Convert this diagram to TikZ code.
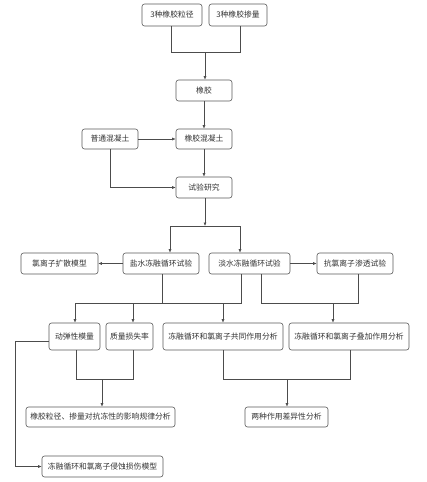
\documentclass[tikz,border=0pt]{standalone}
\usepackage{fontspec}
\setmainfont{Noto Sans CJK SC}
\usetikzlibrary{arrows.meta}
\begin{document}
\begin{tikzpicture}[x=1pt,y=-1pt,
  box/.style={draw=black!65, rounded corners=2.5pt, line width=0.6pt, inner sep=0pt, align=center,
     font=\fontsize{7.8}{9}\selectfont, text=black!80},
  ln/.style={draw=black!70, line width=0.6pt},
  arr/.style={ln, -{Latex[length=3.5pt,width=3pt]}}]
\useasboundingbox (0,0) rectangle (426,482);
% nodes
\node[box, minimum width=60pt, minimum height=22pt] (t1) at (172,15) {3种橡胶粒径};
\node[box, minimum width=58pt, minimum height=22pt] (t2) at (238,15) {3种橡胶掺量};
\node[box, minimum width=56pt, minimum height=21pt] (rub) at (204,90.5) {橡胶};
\node[box, minimum width=56pt, minimum height=20pt] (rc) at (204,139) {橡胶混凝土};
\node[box, minimum width=56pt, minimum height=20pt] (oc) at (110,139) {普通混凝土};
\node[box, minimum width=56pt, minimum height=21pt] (exp) at (204,187.5) {试验研究};
\node[box, minimum width=77pt, minimum height=21pt] (cl) at (59.5,263.5) {氯离子扩散模型};
\node[box, minimum width=76pt, minimum height=21pt] (salt) at (161,263.5) {盐水冻融循环试验};
\node[box, minimum width=81pt, minimum height=21pt] (fresh) at (249.5,263.5) {淡水冻融循环试验};
\node[box, minimum width=76pt, minimum height=21pt] (anti) at (355,263.5) {抗氯离子渗透试验};
\node[box, minimum width=51pt, minimum height=27pt] (dyn) at (74.5,336.5) {动弹性模量};
\node[box, minimum width=47pt, minimum height=27pt] (mass) at (129.5,336.5) {质量损失率};
\node[box, minimum width=120pt, minimum height=27pt] (co) at (223,336.5) {冻融循环和氯离子共同作用分析};
\node[box, minimum width=120pt, minimum height=27pt] (sup) at (349,336.5) {冻融循环和氯离子叠加作用分析};
\node[box, minimum width=149pt, minimum height=20pt] (rule) at (100.5,417) {橡胶粒径、掺量对抗冻性的影响规律分析};
\node[box, minimum width=83pt, minimum height=20pt] (diff) at (286.5,417) {两种作用差异性分析};
\node[box, minimum width=121pt, minimum height=21pt] (dmg) at (102.5,466.5) {冻融循环和氯离子侵蚀损伤模型};
% junction coordinates
\coordinate (j1) at (205,52);
\coordinate (j2) at (205,226);
\coordinate (a1) at (170,226);
\coordinate (a2) at (240,226);
\coordinate (s1) at (162,303);
\coordinate (f1) at (241,303);
\coordinate (d1) at (75,303);
\coordinate (m1) at (133,303);
\coordinate (c1) at (223,303);
\coordinate (f2) at (261,303);
\coordinate (n1) at (358,303);
\coordinate (p1) at (333,303);
\coordinate (dw) at (15,341);
\coordinate (b1) at (76,379);
\coordinate (b2) at (133,379);
\coordinate (b3) at (102,379);
\coordinate (r1) at (223,379);
\coordinate (r2) at (350,379);
\coordinate (r3) at (287,379);
% connectors
\draw[ln] (t1.south -| 171,0) -- (171,52) -- (240,52) -- (t2.south -| 240,0);
\draw[arr] (j1) -- (rub.north -| j1);
\draw[arr] (rub) -- (rc);
\draw[arr] (oc) -- (rc);
\draw[arr] (oc.south) |- (exp.west);
\draw[arr] (rc) -- (exp);
\draw[arr] (exp.south -| j2) -- (j2);
\draw[ln] (a1) -- (a2);
\draw[arr] (a1) -- (a1 |- salt.north);
\draw[arr] (a2) -- (a2 |- fresh.north);
\draw[arr] (salt) -- (cl);
\draw[arr] (fresh) -- (anti);
\draw[ln] (s1 |- salt.south) -- (s1);
\draw[ln] (f1 |- fresh.south) -- (f1) -- (d1);
\draw[arr] (d1) -- (d1 |- dyn.north);
\draw[arr] (m1) -- (m1 |- mass.north);
\draw[arr] (c1) -- (c1 |- co.north);
\draw[ln] (f2 |- fresh.south) -- (f2) -- (n1) -- (n1 |- anti.south);
\draw[arr] (p1) -- (p1 |- sup.north);
\draw[ln] (dyn.west |- dw) -- (dw);
\draw[arr] (dw) |- (dmg.west);
\draw[ln] (b1 |- dyn.south) -- (b1) -- (b2) -- (b2 |- mass.south);
\draw[arr] (b3) -- (b3 |- rule.north);
\draw[ln] (r1 |- co.south) -- (r1) -- (r2) -- (r2 |- sup.south);
\draw[arr] (r3) -- (r3 |- diff.north);
\end{tikzpicture}
\end{document}
